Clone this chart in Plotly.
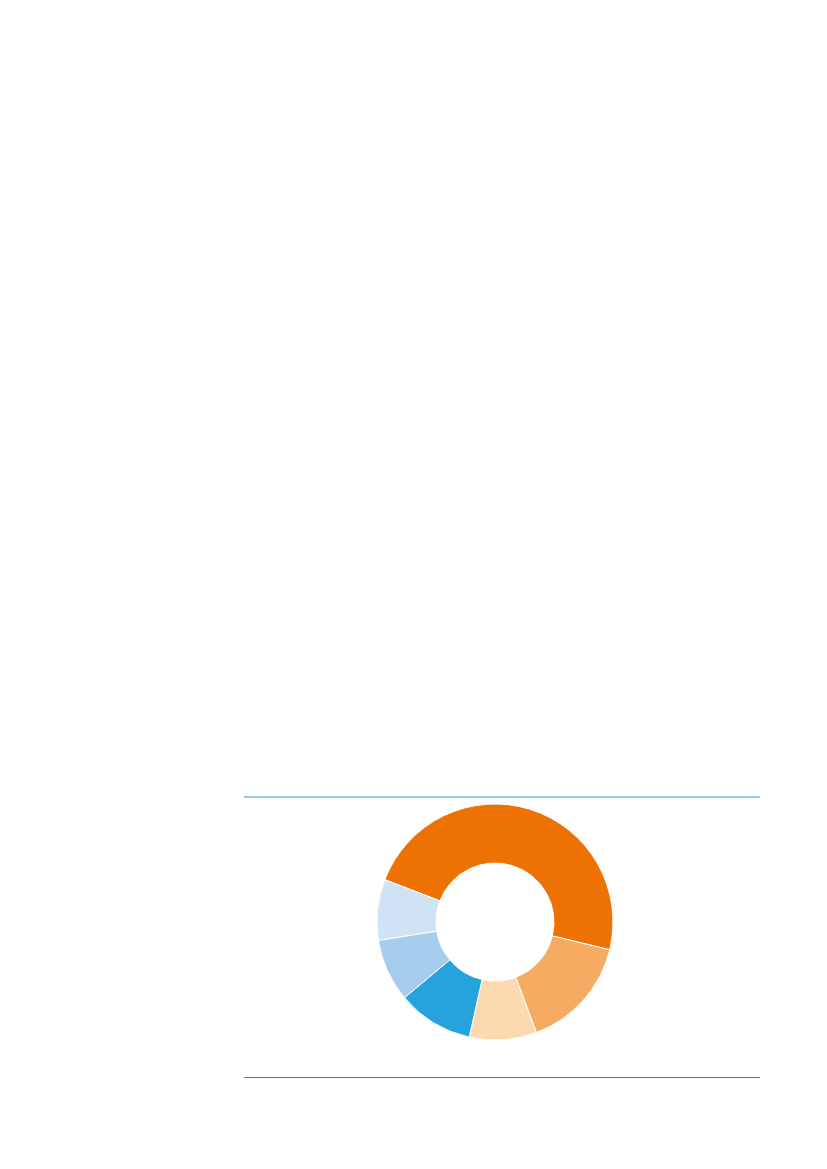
import plotly.graph_objects as go

# slices, clockwise from the big orange one
labels = ["Segment 1", "Segment 2", "Segment 3", "Segment 4", "Segment 5", "Segment 6"]
values = [47.9, 15.5, 9.2, 10.4, 8.6, 8.3]
colors = ["#ee7203", "#f6ab62", "#fdd9b0", "#26a3dd", "#a6ccee", "#d0e3f5"]

W, H = 827, 1169
off = 8  # page body margin
cx, cy, r = 495 - off, 922 - off, 118

fig = go.Figure()
fig.add_trace(go.Pie(
    labels=labels,
    values=values,
    hole=0.5,
    sort=False,
    direction="clockwise",
    rotation=291,
    textinfo="none",
    hoverinfo="label+percent",
    marker=dict(colors=colors, line=dict(color="white", width=1)),
    domain=dict(x=[(cx - r) / W, (cx + r) / W], y=[1 - (cy + r) / H, 1 - (cy - r) / H]),
    showlegend=False,
))

# rules above and below the chart
x0, x1 = (244 - off) / W, (760 - off) / W
fig.add_shape(type="line", xref="paper", yref="paper",
              x0=x0, x1=x1, y0=1 - (797 - off) / H, y1=1 - (797 - off) / H,
              line=dict(color="#6bbde6", width=1.5))
fig.add_shape(type="line", xref="paper", yref="paper",
              x0=x0, x1=x1, y0=1 - (1077.5 - off) / H, y1=1 - (1077.5 - off) / H,
              line=dict(color="#0095db", width=1.2))

fig.update_layout(
    width=W, height=H,
    margin=dict(l=0, r=0, t=0, b=0),
    paper_bgcolor="white",
    plot_bgcolor="white",
)

fig.write_html("out.html")
